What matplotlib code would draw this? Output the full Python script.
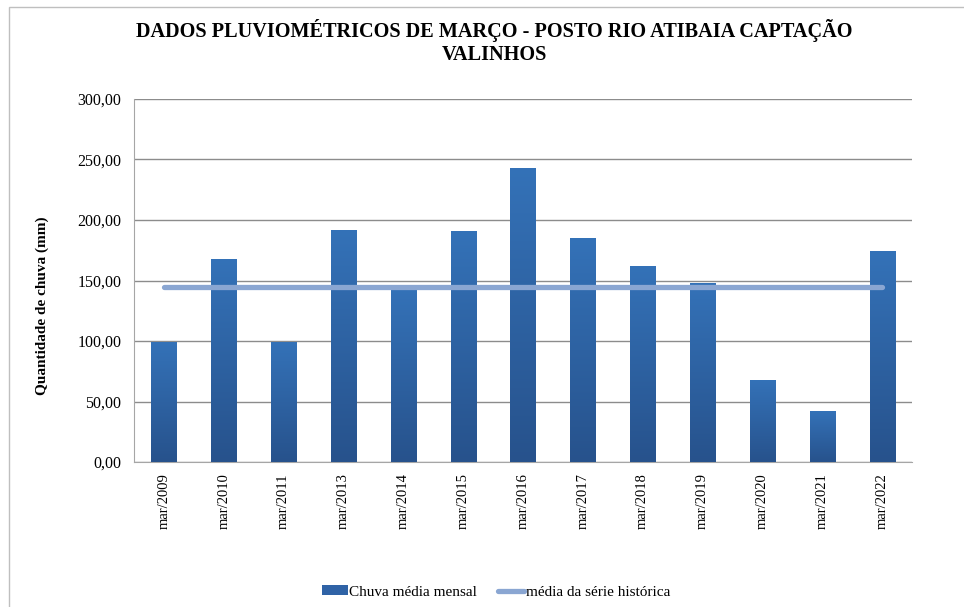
import matplotlib
matplotlib.use('Agg')
import matplotlib.pyplot as plt
import matplotlib.patches as patches
from matplotlib.lines import Line2D
from matplotlib.colors import LinearSegmentedColormap
import numpy as np

# Data
categories = ['mar/2009', 'mar/2010', 'mar/2011', 'mar/2013', 'mar/2014', 'mar/2015',
              'mar/2016', 'mar/2017', 'mar/2018', 'mar/2019', 'mar/2020', 'mar/2021', 'mar/2022']
chuva = [99, 168, 99, 192, 143, 191, 243, 185, 162, 148, 68, 42, 174]
media = [145] * len(categories)
yticks = [0, 50, 100, 150, 200, 250, 300]

plt.rcParams['font.family'] = ['Liberation Serif', 'DejaVu Serif']

W, H = 964, 607
fig = plt.figure(figsize=(W / 100, H / 100), dpi=100)
ax = fig.add_axes([134 / W, 1 - 462 / H, (912 - 134) / W, (462 - 99) / H])

x = np.arange(len(categories))
bars = ax.bar(x, chuva, width=0.42, color='#2f63a6', zorder=2)

# vertical gradient inside each bar (lighter at top, darker at bottom)
cmap = LinearSegmentedColormap.from_list('bar', ['#27528c', '#3472b8'])
grad = np.linspace(0, 1, 256).reshape(-1, 1)
for b in bars:
    bx, by = b.get_x(), b.get_y()
    bw, bh = b.get_width(), b.get_height()
    im = ax.imshow(grad, cmap=cmap, origin='lower', aspect='auto',
                   extent=[bx, bx + bw, by, by + bh], zorder=3)
    im.set_clip_path(b)

ax.plot(x, media, color='#8aa6d2', lw=3.8, solid_capstyle='round', zorder=4)

ax.set_xlim(-0.5, len(categories) - 0.5)
ax.set_ylim(0, 300)
ax.set_yticks(yticks)
ax.set_yticklabels([f'{v:.2f}'.replace('.', ',') for v in yticks], fontsize=11.5)
ax.set_xticks(x)
ax.set_xticklabels(categories, rotation=90, fontsize=10.5)
ax.tick_params(axis='both', length=0)
ax.tick_params(axis='y', pad=9)
ax.tick_params(axis='x', pad=8)
ax.yaxis.grid(True, color='#8c8c8c', lw=1.0, zorder=0)
ax.set_axisbelow(True)
for s in ['top', 'right']:
    ax.spines[s].set_visible(False)
ax.spines['left'].set_color('#a6a6a6')
ax.spines['bottom'].set_color('#a6a6a6')
ax.set_ylabel('Quantidade de chuva (mm)', fontsize=11, fontweight='bold')
ax.yaxis.set_label_coords(-85 / (912 - 134), (462 - 306) / (462 - 99))

fig.text(494 / W, 1 - 42 / H, 'DADOS PLUVIOMÉTRICOS DE MARÇO - POSTO RIO ATIBAIA CAPTAÇÃO\nVALINHOS',
         ha='center', va='center', fontsize=14.6, fontweight='bold', linespacing=1.2)

handles = [patches.Patch(facecolor='#2f63a6', edgecolor='none'),
           Line2D([0], [0], color='#8aa6d2', lw=3.8, solid_capstyle='round')]
fig.legend(handles, ['Chuva média mensal', 'média da série histórica'],
           loc='center', bbox_to_anchor=(496 / W, 1 - 592 / H), ncol=2, frameon=False,
           fontsize=11, handlelength=1.7, handleheight=0.55, handletextpad=0.1,
           columnspacing=1.4)

# outer chart frame
frame = patches.Rectangle((9 / W, -0.1), 1.2, 1 - 7 / H + 0.1, transform=fig.transFigure,
                          fill=False, edgecolor='#bfbfbf', lw=1.0, clip_on=False)
fig.patches.append(frame)

fig.savefig('out.png', dpi=100)
